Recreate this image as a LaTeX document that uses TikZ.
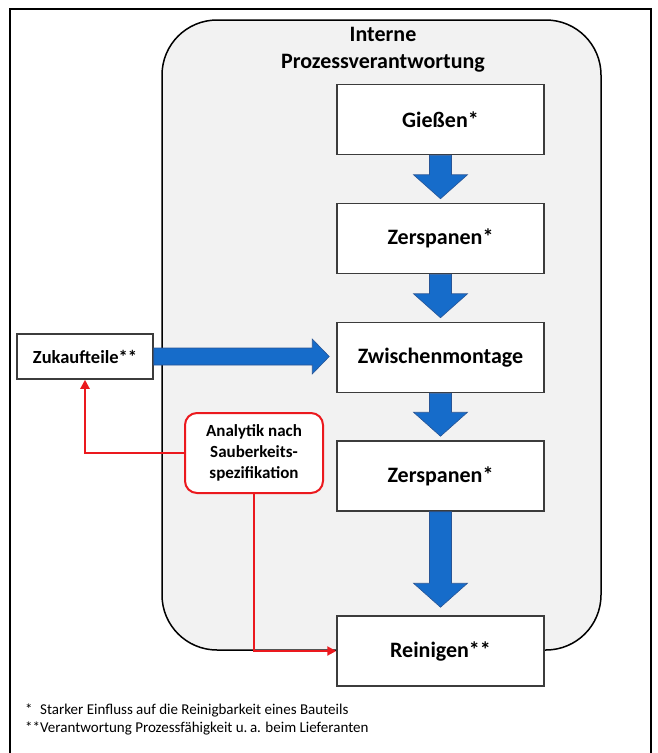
\documentclass[tikz,border=0pt]{standalone}
\usepackage{fontspec}
\setmainfont{Carlito}
\usetikzlibrary{calc,arrows.meta}
\definecolor{arrowblue}{RGB}{22,108,202}
\definecolor{arrowedge}{RGB}{40,85,150}
\definecolor{contfill}{RGB}{242,242,242}
\definecolor{boxedge}{RGB}{60,60,60}
\definecolor{redc}{RGB}{235,25,30}
\tikzset{
  stepbox/.style={draw=boxedge,line width=1.5pt,fill=white,minimum width=207pt,minimum height=70pt,inner sep=0pt,font=\bfseries\fontsize{22}{24}\selectfont},
  bluearrow/.style={fill=arrowblue,draw=arrowedge,line width=0.6pt},
  redline/.style={draw=redc,line width=2pt},
  redtip/.style={-{Triangle[length=9pt,width=9pt]}},
}
\newcommand{\bluedown}[3]{%
  \filldraw[bluearrow] let \p1=(#1.south), \p2=(#2.north) in
   (\x1-11pt,\y1) -- (\x1-11pt,\y2+#3pt+24pt) -- (\x1-27pt,\y2+#3pt+24pt) -- (\x1,\y2+#3pt)
   -- (\x1+27pt,\y2+#3pt+24pt) -- (\x1+11pt,\y2+#3pt+24pt) -- (\x1+11pt,\y1) -- cycle;}
\begin{document}
\begin{tikzpicture}[x=1pt,y=-1pt]
\useasboundingbox (0,0) rectangle (657,753);
% outer frame
\draw[line width=1.5pt] (10,760) -- (10,9) -- (651,9) -- (651,760);
% container
\draw[fill=contfill,line width=1.5pt,rounded corners=55pt] (162,20) rectangle (601,650);
\node[align=center,font=\bfseries\fontsize{22}{27}\selectfont] (title) at (383,50) {Interne\\Prozessverantwortung};
% steps
\node[stepbox] (g) at (440.5,119.5) {Gießen*};
\node[stepbox] (z1) at (440.5,238.5) {Zerspanen*};
\node[stepbox] (zm) at (440.5,357.5) {Zwischenmontage};
\node[stepbox] (z2) at (440.5,476) {Zerspanen*};
\node[stepbox] (r) at (440.5,651) {Reinigen**};
% supplier
\node[draw=boxedge,line width=1.5pt,fill=white,minimum width=136pt,minimum height=45pt,inner sep=0pt,font=\bfseries\fontsize{18.5}{20}\selectfont] (zk) at (85,356.5) {Zukaufteile**};
% analytics
\node[draw=redc,line width=2pt,fill=white,rounded corners=12pt,minimum width=138pt,minimum height=80pt,inner sep=0pt,align=center,font=\bfseries\fontsize{17}{21}\selectfont] (an) at (254,453) {Analytik nach\\Sauberkeits-\\spezifikation};
% blue arrows
\bluedown{g}{z1}{4}
\bluedown{z1}{zm}{4}
\bluedown{zm}{z2}{4}
\bluedown{z2}{r}{8}
\filldraw[bluearrow] let \p1=(zk.east), \p2=(zm.west) in
  (\x1,\y1+8.5pt) -- (\x2-24pt,\y1+8.5pt) -- (\x2-24pt,\y1+17.5pt) -- (\x2-7pt,\y1)
  -- (\x2-24pt,\y1-17.5pt) -- (\x2-24pt,\y1-8.5pt) -- (\x1,\y1-8.5pt) -- cycle;
% red connectors
\draw[redline,redtip] (an.west) -| (zk.south);
\draw[redline,redtip] (an.south) |- (r.west);
% footnotes
\node[anchor=west,inner sep=0pt,font=\fontsize{15}{17}\selectfont] (fn1) at (25,710) {\makebox[15pt][l]{*}Starker Einfluss auf die Reinigbarkeit eines Bauteils};
\node[anchor=west,inner sep=0pt,font=\fontsize{15}{17}\selectfont] (fn2) at (25,728) {\makebox[15pt][l]{**}Verantwortung Prozessfähigkeit u.\,a. beim Lieferanten};
\end{tikzpicture}
\end{document}
